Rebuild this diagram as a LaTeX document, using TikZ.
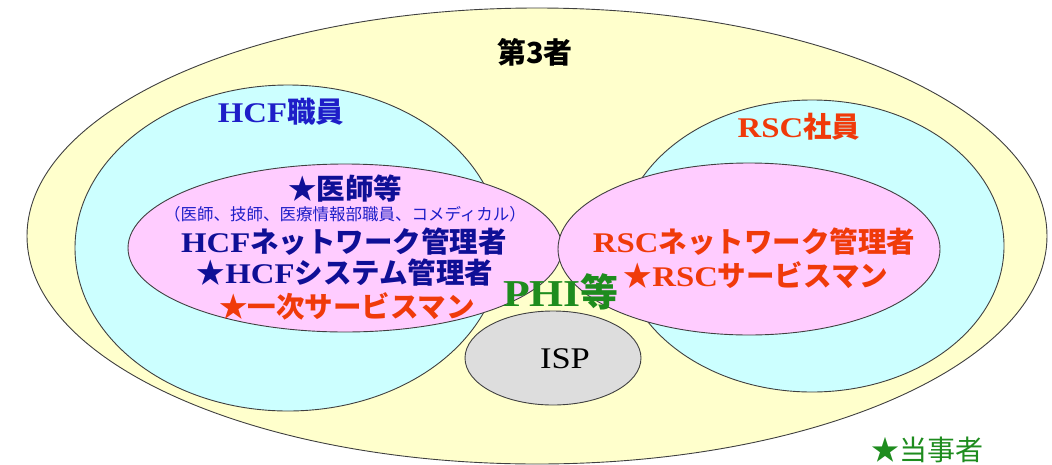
\documentclass[tikz,border=0pt]{standalone}
\usepackage{fontspec}
\newfontfamily\jp{Noto Sans CJK JP}
\newfontfamily\lat{Liberation Serif}[FakeStretch=1.15]
\definecolor{outerY}{HTML}{FFFFCC}
\definecolor{cyanF}{HTML}{CCFFFF}
\definecolor{pinkF}{HTML}{FFCCFF}
\definecolor{greyF}{HTML}{DDDDDD}
\definecolor{navy}{HTML}{0F0F96}
\definecolor{blueT}{HTML}{1E1EC8}
\definecolor{redT}{HTML}{F03A0A}
\definecolor{greenT}{HTML}{1E8C1E}
\tikzset{
  region/.style={draw=black!75, line width=0.9pt},
  lbl/.style={inner sep=0pt, font=\jp\bfseries\fontsize{28.5}{32}\selectfont},
}
\begin{document}
\begin{tikzpicture}[x=1pt,y=-1pt]
\useasboundingbox[fill=white] (0,0) rectangle (1052,464);
% regions
\draw[region, fill=outerY] (537,236) ellipse [x radius=510pt, y radius=228pt];
\draw[region, fill=cyanF] (288,248) ellipse [x radius=213pt, y radius=163pt];
\draw[region, fill=cyanF] (812,246) ellipse [x radius=192pt, y radius=146pt];
\draw[region, fill=pinkF] (345,248) ellipse [x radius=217pt, y radius=84pt];
\draw[region, fill=pinkF] (749,249) ellipse [x radius=191pt, y radius=86pt];
\draw[region, fill=greyF] (553,358) ellipse [x radius=88pt, y radius=47pt];
% labels
\node[lbl, text=black, font=\jp\bfseries\fontsize{29}{32}\selectfont] (third) at (535,52) {第3者};
\node[lbl, text=blueT] (hcfstaff) at (281,112) {{\lat\bfseries HCF}職員};
\node[lbl, text=redT] (rscstaff) at (799,127) {{\lat\bfseries RSC}社員};
\node[lbl, text=navy] (doctor) at (345,189) {★医師等};
\node[lbl, text=blueT, font=\jp\fontsize{16.5}{19}\selectfont] (sub) at (345,214) {（医師、技師、医療情報部職員、コメディカル）};
\node[lbl, text=navy] (hcfnet) at (344,242) {{\lat\bfseries HCF}ネットワーク管理者};
\node[lbl, text=navy] (hcfsys) at (345,273) {★{\lat\bfseries HCF}システム管理者};
\node[lbl, text=redT] (first) at (347,306) {★一次サービスマン};
\node[lbl, text=redT] (rscnet) at (754,242) {{\lat\bfseries RSC}ネットワーク管理者};
\node[lbl, text=redT] (rscsvc) at (756,275) {★{\lat\bfseries RSC}サービスマン};
\node[lbl, text=greenT, font=\jp\bfseries\fontsize{38}{42}\selectfont] (phi) at (561,292) {{\lat\bfseries PHI}等};
\node[lbl, text=black, font=\lat\fontsize{30}{34}\selectfont] (isp) at (565,359) {ISP};
\node[lbl, text=greenT, font=\jp\fontsize{28}{32}\selectfont] (party) at (927,450) {★当事者};
\end{tikzpicture}
\end{document}
